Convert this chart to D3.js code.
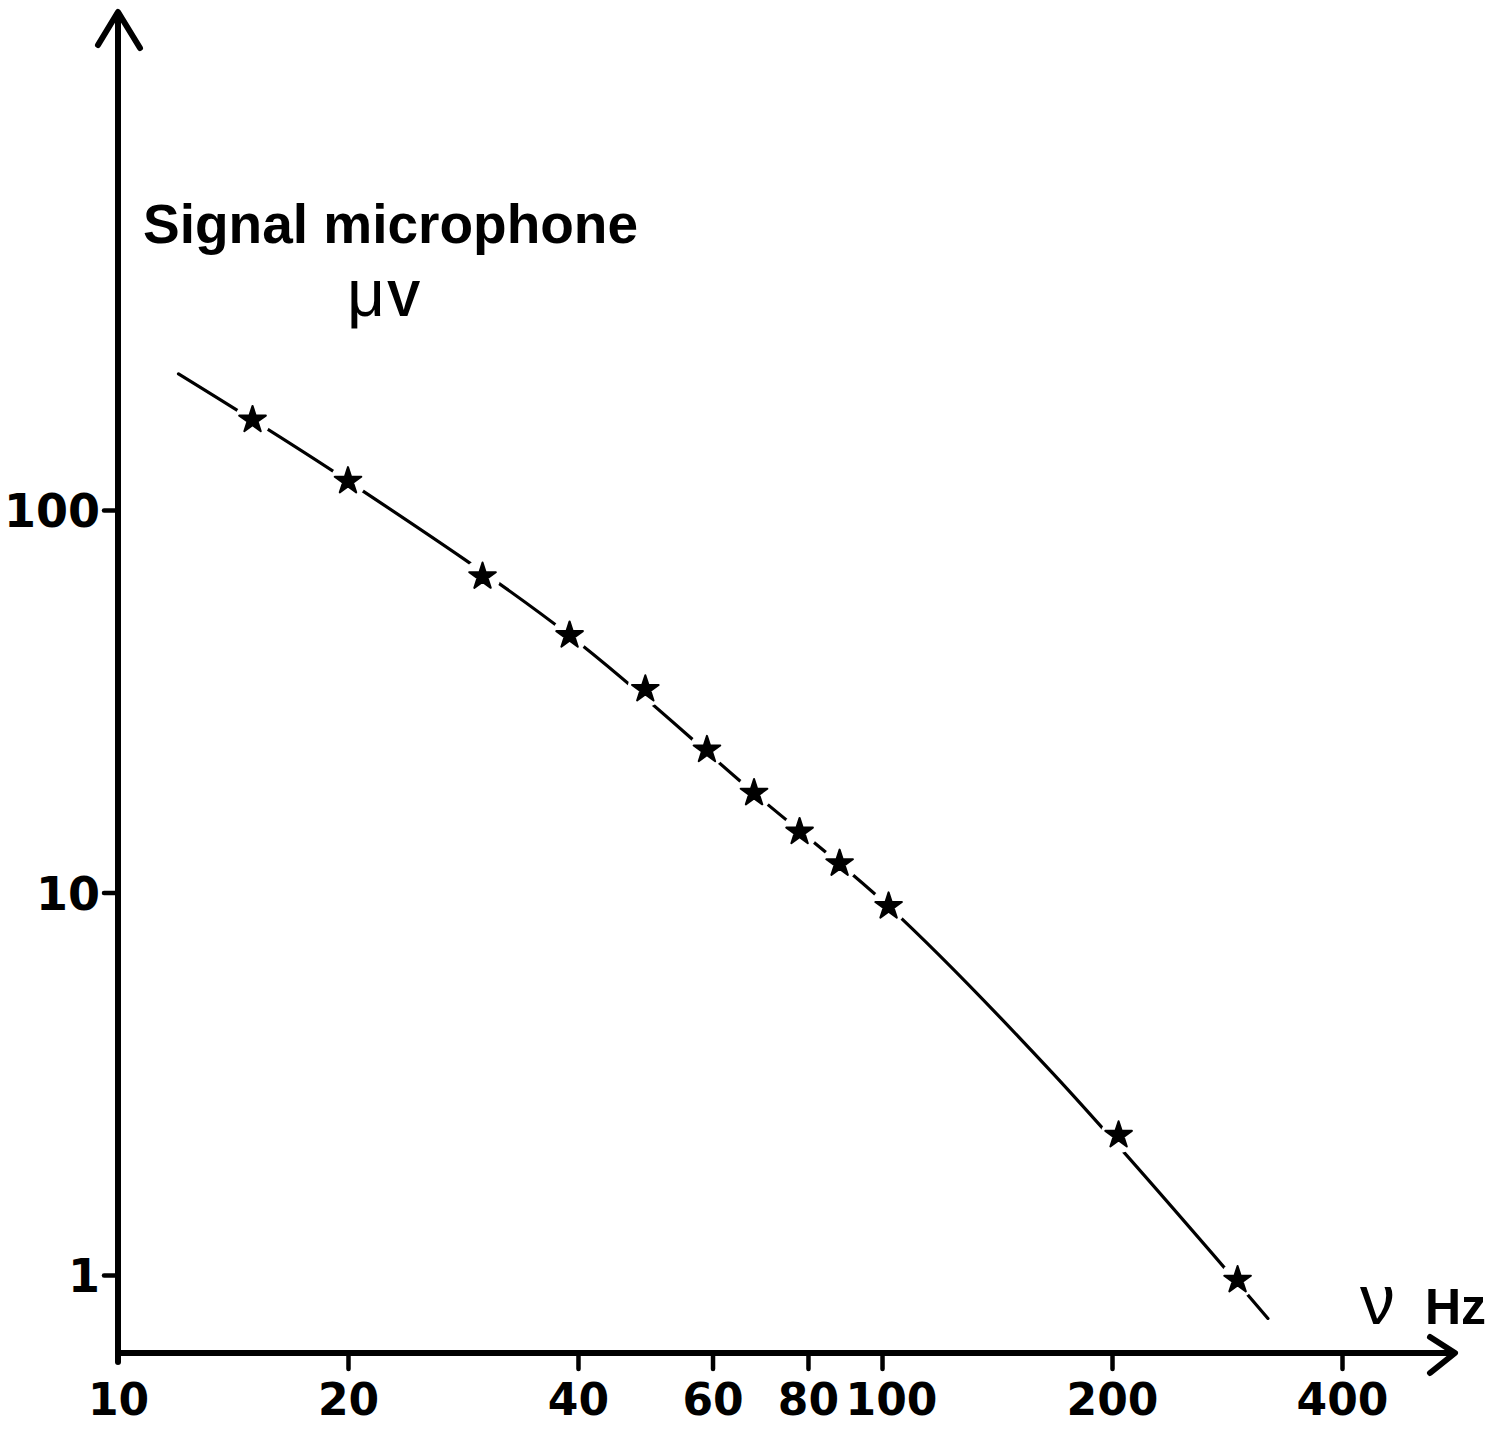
<!DOCTYPE html>
<html>
<head>
<meta charset="utf-8">
<script src="https://cdn.jsdelivr.net/npm/d3@7"></script>
<style>
  body { margin: 0; background: #fff; }
  svg { display: block; font-family: "Liberation Sans", Arial, Helvetica, sans-serif; }
</style>
</head>
<body>
<div id="chart"></div>
<script>
// measured points (stars)
const freq = [15, 20, 30, 39, 49, 59, 68, 78, 88, 102, 204, 292];
const signal = [172, 119, 67, 47, 34, 23.6, 18.2, 14.4, 11.9, 9.2, 2.32, 0.97];

// hand drawn curve
const curveFreq = [12, 20, 39, 68, 102, 167, 320];
const curveSignal = [227, 119, 47, 18.2, 9.2, 3.38, 0.77];

const xTicks = [10, 20, 40, 60, 80, 100, 200, 400];
const yTicks = [1, 10, 100];

const width = 1495;
const height = 1431;
const origin = { x: 118, y: 1353 };
const axisTop = 12;
const axisRight = 1455;

const svg = d3.select('#chart')
  .append('svg')
  .attr('width', width)
  .attr('height', height);

// scales
const x = d3.scaleLog()
  .domain([10, 400])
  .range([118, 1342]);

const y = d3.scaleLog()
  .domain([1, 100])
  .range([1275, 510]);

// axes lines with arrows
const axes = svg.append('g')
  .attr('fill', 'none')
  .attr('stroke', '#000')
  .attr('stroke-width', 6)
  .attr('stroke-linecap', 'round')
  .attr('stroke-linejoin', 'round');

axes.append('line')
  .attr('x1', origin.x).attr('y1', origin.y + 9)
  .attr('x2', origin.x).attr('y2', axisTop + 2);
axes.append('polyline')
  .attr('points', [[origin.x - 20, axisTop + 33], [origin.x, axisTop], [origin.x + 22, axisTop + 36]].join(' '));

axes.append('line')
  .attr('x1', origin.x).attr('y1', origin.y)
  .attr('x2', axisRight - 2).attr('y2', origin.y);
axes.append('polyline')
  .attr('points', [[axisRight - 25, origin.y - 16], [axisRight, origin.y], [axisRight - 25, origin.y + 20]].join(' '));

// x axis ticks and labels
const xAxis = svg.append('g')
  .attr('transform', `translate(0, ${origin.y})`)
  .call(d3.axisBottom(x)
    .tickValues(xTicks)
    .tickFormat(d3.format('d'))
    .tickSize(16)
    .tickPadding(15));

// y axis ticks and labels
const yAxis = svg.append('g')
  .attr('transform', `translate(${origin.x}, 0)`)
  .call(d3.axisLeft(y)
    .tickValues(yTicks)
    .tickFormat(d3.format('d'))
    .tickSize(14)
    .tickPadding(4));

[xAxis, yAxis].forEach(g => {
  g.select('.domain').remove();
  g.selectAll('.tick line')
    .attr('stroke', '#000')
    .attr('stroke-width', 4.5)
    .attr('stroke-linecap', 'round');
  g.selectAll('.tick text')
    .attr('fill', '#000')
    .style('font-weight', 'bold')
    .style('font-family', '"DejaVu Sans", sans-serif');
});
xAxis.selectAll('.tick text').style('font-size', '44px');
yAxis.selectAll('.tick text').style('font-size', '46px').attr('dy', '0.36em');
xAxis.selectAll('.tick')
  .filter(d => d === 10)
  .select('line').remove();
// the 100 label sits a little right of its tick in the original
xAxis.selectAll('.tick')
  .filter(d => d === 100)
  .select('text').attr('dx', 9);

// curve
const line = d3.line()
  .x((d, i) => x(curveFreq[i]))
  .y((d, i) => y(curveSignal[i]))
  .curve(d3.curveCatmullRom.alpha(0.5));

svg.append('path')
  .datum(curveFreq)
  .attr('d', line)
  .attr('fill', 'none')
  .attr('stroke', '#000')
  .attr('stroke-width', 3.2)
  .attr('stroke-linecap', 'round');

// gaps in the curve round each star
svg.append('g')
  .selectAll('circle')
  .data(freq)
  .enter()
  .append('circle')
  .attr('cx', d => x(d))
  .attr('cy', (d, i) => y(signal[i]))
  .attr('r', 18)
  .attr('fill', '#fff');

// stars
const star = d3.symbol().type(d3.symbolStar).size(220);
svg.append('g')
  .selectAll('path')
  .data(freq)
  .enter()
  .append('path')
  .attr('transform', (d, i) => `translate(${x(d)}, ${y(signal[i])})`)
  .attr('d', star)
  .attr('fill', '#000')
  .attr('stroke', '#000')
  .attr('stroke-width', 2)
  .attr('stroke-linejoin', 'round');

// titles
svg.append('text')
  .attr('x', 143)
  .attr('y', 243)
  .style('font-size', '55px')
  .style('font-weight', 'bold')
  .text('Signal microphone');

const unit = svg.append('text')
  .attr('x', 347)
  .attr('y', 316);
unit.append('tspan').style('font-size', '66px').text('μ');
unit.append('tspan').attr('dx', 2).style('font-size', '50px').style('font-weight', 'bold').text('V');

const xlab = svg.append('text')
  .attr('x', 1360)
  .attr('y', 1324);
xlab.append('tspan').style('font-size', '70px').text('ν');
xlab.append('tspan').attr('dx', 30).style('font-size', '50px').style('font-weight', 'bold').text('Hz');
</script>
</body>
</html>
